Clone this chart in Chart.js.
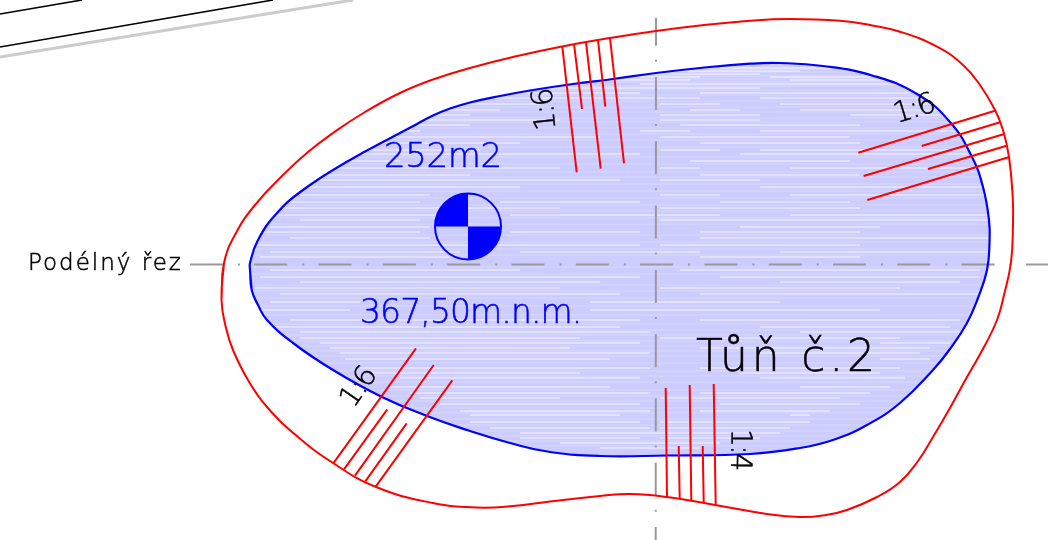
<!DOCTYPE html>
<html>
<head>
<meta charset="utf-8">
<title>Tůň č.2</title>
<style>
body { margin: 0; background: #fff; }
canvas { display: block; }
</style>
<script src="https://cdn.jsdelivr.net/npm/chart.js@4/dist/chart.umd.min.js"></script>
</head>
<body>
<canvas id="plan" width="1048" height="540"></canvas>
<script>
// values, x and y in drawing pixels
var redOutline = [[224,263],[221.5,300],[226,328],[233,350],[248,380],[267,407],[298,437],[333,463],[376,487],[433,503],[477,507.5],[513,506],[550,501.5],[600,496],[630,494],[667,497],[715,505],[767,514],[800,517],[826,515],[847,510],[877,497],[900,482],[918,461],[933,437],[950,408],[967,377],[984,347],[997,320],[1004,295],[1011,262],[1013,223],[1012.7,197],[1009,157],[1003,130],[995,110],[980,85],[963,65],[937,46.7],[900,31.7],[870,25],[840,20.7],[790,19],[750,20.7],[700,25.5],[656,31],[610,38],[562,46.5],[515,56.5],[470,68],[433,79.5],[400,93],[365,112],[333,133],[308,152],[283,175],[255,205],[236,233],[224,263],[221.5,300]];
var blueOutline = [[250,270],[251.7,290],[258,305],[267,320],[293,343],[333,370],[382,397],[427,416],[467,430],[510,443],[550,452],[600,456],[667,455.5],[750,454],[800,448],[833,440],[867,425],[900,403],[933,370],[950,349],[967,323],[978,298],[987,270],[989.5,243],[989,220],[983,187],[972,157],[950,122],[917,94],[873,75.7],[823,66],[780,63],[750,63.7],[700,68],[656,73],[613,79],[573,84],[533,90],[500,96],[470,102.5],[450,108.5],[433,115.5],[417,124],[400,133],[350,160],[303,190],[277,213],[258,240],[250,263],[250,270],[251.7,290]];

var slopeTop = [[562.3,46.7],[576.7,172.3],[574,44],[582,109],[586,42.3],[600.7,168.7],[598,40],[605.3,106.7],[610,38],[624,163.3]];
var slopeRight = [[995,110.7],[858.3,152.7],[1000,122.3],[921.7,146],[1004.3,134],[863.7,176],[1006.7,145.7],[928,169],[1009.3,157],[867.3,200]];
var slopeLeft = [[333.3,463.3],[416,348.3],[344,469.3],[387.3,409.3],[355,475.7],[433.7,365],[365.3,481.3],[406.7,423.3],[375.7,486.7],[452.3,380.3]];
var slopeBottom = [[667,496.7],[665.7,388],[679.7,498.7],[678.7,446],[691.3,500.7],[689.7,385],[703.7,502.7],[702.7,446],[715.7,505.3],[713.7,384]];

var axisLong = [[190,264.5],[1048,264.5]];
var axisCross = [[656,18],[655.7,540]];
var roadBlackA = [[0,14],[82,0]];
var roadBlackB = [[0,47],[273,0]];
var roadGrey = [[0,57],[353,0]];
var benchmark = [[468,226.5]];

// white streaks of the hatch: y, then x from / x to pairs
var streakRows = [
[68,720,850],[71,600,800],[74,540,760],[77,520,700,770,870],[80,470,690,790,890],[84,640,900],
[88,450,760],[93,430,640,700,910],[98,410,700,760,930],[104,350,540,660,720,780,950],[110,380,500,690,740,800,950],
[115,340,470,660,760,850,960],[120,320,560,660,760],[125,300,470,680,860],[131,290,420,640,690,760,980],[137,340,600,660,850],
[143,300,520,700,860],[150,270,480,660,720,760,975],[154,300,640,740,980],[161,280,400,690,850],[168,260,560,660,700,790,985],
[175,300,470,700,860],[180,270,620,660,760],[187,280,520,760,985],[195,300,430,660,720,790,990],[202,260,420,500,640,720,850],
[208,280,560,660,860],[215,260,440,510,720,790,990],[220,300,420,660,990],[227,270,430,740,880],[232,260,420,510,640,700,860],
[238,290,430,700,990],[245,255,640,660,860],[252,270,460,520,700,780,990],[257,260,450,700,860],
[270,270,520,680,980],[277,260,640,720,980],[282,300,600,780,960],[288,255,560,660,900],[294,280,620,700,985],
[302,270,360,590,780],[310,260,350,590,880],[320,290,640,700,960],[327,270,620,760,950],[332,300,650,800,970],
[338,300,580,660,900],[343,320,640,880,950],[348,330,570,700,930],[353,340,650,760,920],[359,345,610,880,930],
[368,360,650,700,900],[373,370,580,740,880],[378,400,640,760,905],[387,390,610,800,890],[393,410,650,700,870],
[398,420,560,660,840],[404,440,640,720,860],[411,460,650,700,830],[415,470,620,790,810],[422,470,640,660,810],
[428,490,650,660,790],[433,520,780],[438,520,640,660,760],[443,560,720],[448,600,700]
];
var streakPale = [66,69,72,76,79,82,86,90,95,101,107,112,118,122,128,134,140,147,157,164,172,177,184,191,198,205,211,218,224,235,242,249,255,267,274,285,291,298,306,315,324,330,335,341,346,351,356,363,371,376,382,390,396,401,408,413,419,425,431,436,441,446];

function toPoints(list) {
	return list.map(function(p) { return { x: p[0], y: p[1] }; });
}

// pairs of end points with a gap after each pair
function toSegments(list) {
	var out = [];
	for (var i = 0; i < list.length; i += 2) {
		out.push({ x: list[i][0], y: list[i][1] });
		out.push({ x: list[i + 1][0], y: list[i + 1][1] });
		out.push({ x: NaN, y: NaN });
	}
	return out;
}

function streakPoints() {
	var out = [];
	streakRows.forEach(function(row) {
		for (var i = 1; i < row.length; i += 2) {
			out.push({ x: row[i], y: row[0] });
			out.push({ x: row[i + 1], y: row[0] });
			out.push({ x: NaN, y: NaN });
		}
	});
	return out;
}

function palePoints() {
	var out = [];
	streakPale.forEach(function(y) {
		out.push({ x: 240, y: y });
		out.push({ x: 1000, y: y });
		out.push({ x: NaN, y: NaN });
	});
	return out;
}

function redLines(label, list) {
	return { label: label, data: toSegments(list), borderColor: "#ff0000", borderWidth: 2, pointRadius: 0, showLine: true, spanGaps: false, tension: 0 };
}

function plainLine(label, list, color, width, dash, offset) {
	return { label: label, data: toPoints(list), borderColor: color, borderWidth: width, borderDash: dash || [], borderDashOffset: offset || 0, pointRadius: 0, showLine: true, tension: 0 };
}

var BLUE_INDEX = 6;

// fill below everything, using the blue dataset's own path
var pondFill = {
	id: "pondFill",
	beforeDatasetsDraw: function(chart) {
		var ctx = chart.ctx;
		ctx.save();
		ctx.beginPath();
		chart.getDatasetMeta(BLUE_INDEX).dataset.path(ctx);
		ctx.closePath();
		ctx.fillStyle = "#ccccff";
		ctx.fill();
		ctx.restore();
	},
	beforeDatasetDraw: function(chart, args) {
		if (chart.data.datasets[args.index].hatch) {
			var ctx = chart.ctx;
			ctx.save();
			ctx.beginPath();
			chart.getDatasetMeta(BLUE_INDEX).dataset.path(ctx);
			ctx.closePath();
			ctx.clip();
		}
	},
	afterDatasetDraw: function(chart, args) {
		if (chart.data.datasets[args.index].hatch) {
			chart.ctx.restore();
		}
	}
};

var labels = [
	{ text: "Podélný řez", x: 28, y: 270, rot: 0, size: 23, gap: 2, color: "#000", align: "left" },
	{ text: "252m2", x: 384, y: 167, rot: 0, size: 34, gap: -0.4, color: "#0000ff", align: "left" },
	{ text: "367,50m.n.m.", x: 360, y: 323, rot: 0, size: 33, gap: -0.9, color: "#0000ff", align: "left" },
	{ text: "Tůň č.2", x: 696, y: 371, rot: 0, size: 44, gap: 3.8, color: "#000", align: "left" },
	{ text: "1:6", x: 546, y: 110, rot: -96, size: 29, gap: -2, color: "#000", align: "center" },
	{ text: "1:6", x: 914, y: 110, rot: -17, size: 29, gap: -2, color: "#000", align: "center" },
	{ text: "1:6", x: 359, y: 388, rot: -55, size: 29, gap: -2, color: "#000", align: "center" },
	{ text: "1:4", x: 739, y: 449, rot: 91, size: 29, gap: -2, color: "#000", align: "center" }
];

// quarter fills of the level mark, and the texts
var overlay = {
	id: "overlay",
	afterDatasetsDraw: function(chart) {
		var ctx = chart.ctx;
		var cx = chart.scales.x.getPixelForValue(benchmark[0][0]);
		var cy = chart.scales.y.getPixelForValue(benchmark[0][1]);
		ctx.save();
		ctx.fillStyle = "#0000ff";
		ctx.beginPath();
		ctx.moveTo(cx, cy);
		ctx.arc(cx, cy, 33, Math.PI, Math.PI * 1.5);
		ctx.closePath();
		ctx.fill();
		ctx.beginPath();
		ctx.moveTo(cx, cy);
		ctx.arc(cx, cy, 33, 0, Math.PI * 0.5);
		ctx.closePath();
		ctx.fill();
		ctx.restore();

		labels.forEach(function(l) {
			ctx.save();
			ctx.translate(l.x, l.y);
			ctx.rotate(l.rot * Math.PI / 180);
			ctx.font = "200 " + l.size + "px 'DejaVu Sans'";
			ctx.letterSpacing = l.gap + "px";
			ctx.textAlign = l.align;
			ctx.textBaseline = l.align == "center" ? "middle" : "alphabetic";
			ctx.fillStyle = l.color;
			ctx.strokeStyle = l.color;
			ctx.lineWidth = 0.5;
			ctx.fillText(l.text, 0, 0);
			ctx.strokeText(l.text, 0, 0);
			ctx.restore();
		});
	}
};

new Chart(document.getElementById("plan"), {
	type: "scatter",
	data: {
		datasets: [
			redLines("sklon horni", slopeTop),
			redLines("sklon pravy", slopeRight),
			redLines("sklon levy", slopeLeft),
			redLines("sklon dolni", slopeBottom),
			{ label: "okraj", data: toPoints(redOutline), borderColor: "#ff0000", borderWidth: 2, pointRadius: 0, showLine: true, tension: 0.45 },
			{ label: "znacka", data: toPoints(benchmark), borderColor: "#0000ff", backgroundColor: "rgba(0,0,0,0)", pointBorderColor: "#0000ff", pointBackgroundColor: "rgba(0,0,0,0)", pointBorderWidth: 2, pointRadius: 33, showLine: false },
			{ label: "hladina", data: toPoints(blueOutline), borderColor: "#0000ff", borderWidth: 2.2, pointRadius: 0, showLine: true, tension: 0.45 },
			plainLine("podelny rez", axisLong, "#999999", 2, [33, 15, 2, 14.3], 0),
			plainLine("pricny rez", axisCross, "#999999", 2, [33, 14, 2, 15.3], 5.3),
			plainLine("cesta a", roadBlackA, "#000000", 1.6),
			plainLine("cesta b", roadBlackB, "#000000", 1.6),
			plainLine("cesta c", roadGrey, "#cccccc", 3),
			{ label: "srafa", hatch: true, data: streakPoints(), borderColor: "rgba(255,255,255,0.85)", borderWidth: 1, pointRadius: 0, showLine: true, spanGaps: false, tension: 0 },
			{ label: "srafa slaba", hatch: true, data: palePoints(), borderColor: "rgba(255,255,255,0.25)", borderWidth: 1, pointRadius: 0, showLine: true, spanGaps: false, tension: 0 }
		]
	},
	options: {
		responsive: false,
		animation: false,
		devicePixelRatio: 1,
		layout: { padding: 0, autoPadding: false },
		plugins: { legend: { display: false }, title: { display: false }, tooltip: { enabled: false } },
		scales: {
			x: { type: "linear", min: 0, max: 1048, display: false },
			y: { type: "linear", min: 0, max: 540, reverse: true, display: false }
		}
	},
	plugins: [pondFill, overlay]
});
</script>
</body>
</html>
